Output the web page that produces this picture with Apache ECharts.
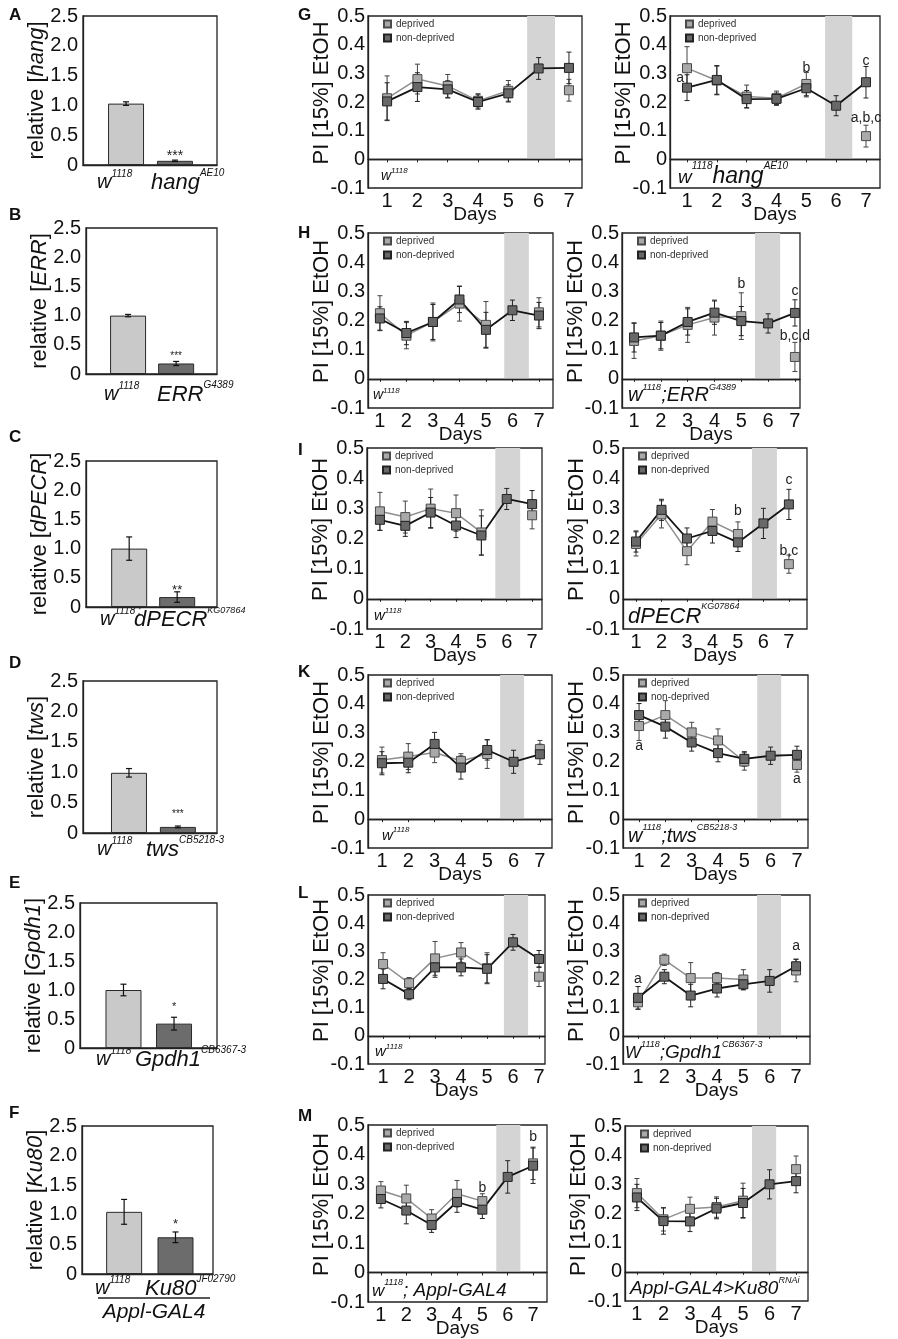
<!DOCTYPE html>
<html><head><meta charset="utf-8">
<script src="https://cdn.jsdelivr.net/npm/echarts@6.0.0/dist/echarts.min.js"></script>
<style>html,body{margin:0;padding:0;background:#fff}#c{width:898px;height:1339px}</style>
</head><body><div id="c"></div>
<script>
const FONT = '"Liberation Sans", Arial, Helvetica, sans-serif';
const days = [1,2,3,4,5,6,7];

// ---------- bar panels A-F : relative expression ----------
const aVals=[1.03,0.07], aErr=[0.03,0.012];
const bVals=[1.00,0.18], bErr=[0.02,0.035];
const cVals=[1.00,0.17], cErr=[0.20,0.09];
const dVals=[0.99,0.10], dErr=[0.07,0.015];
const eVals=[1.00,0.42], eErr=[0.10,0.11];
const fVals=[1.05,0.62], fErr=[0.21,0.09];
const barSig   = ['***','***','**','***','*','*'];
const barGenes = ['hang','ERR','dPECR','tws','Gpdh1','Ku80'];
const ctrlLabels = ['{w|w}{s|1118}','{w|w}{s|1118}','{w|w}{s|1118 ;}','{w|w}{s|1118}','{w|w}{s|1118}','{w|w}{s|1118}'];
const mutLabels  = ['{b|hang}{s|AE10}','{b|ERR}{s|G4389}','{b|dPECR}{s|KG07864}','{b|tws}{s|CB5218-3}','{b|Gpdh1}{s|CB6367-3}','{b|Ku80}{s|JF02790}'];
const barYTicks = [0,0.5,1.0,1.5,2.0,2.5];

// ---------- line panels G-M : PI [15%] EtOH per day ----------
const gL_dep=[0.213,0.280,0.256,0.204,0.239,null,0.241], gL_depErr=[0.078,0.052,0.040,0.025,0.036,null,0.038];
const gL_non=[0.202,0.252,0.244,0.200,0.230,0.317,0.319], gL_nonErr=[0.065,0.050,0.030,0.025,0.030,0.038,0.055];
const gR_dep=[0.318,0.275,0.219,0.213,0.263,null,0.081], gR_depErr=[0.075,0.050,0.040,0.025,0.040,null,0.038];
const gR_non=[0.250,0.277,0.210,0.211,0.248,0.187,0.269], gR_nonErr=[0.045,0.050,0.030,0.020,0.030,0.035,0.055];
const hL_dep=[0.225,0.148,0.195,0.258,0.185,null,0.228], hL_depErr=[0.060,0.045,0.065,0.060,0.080,null,0.050];
const hL_non=[0.207,0.157,0.195,0.272,0.168,0.235,0.217], hL_nonErr=[0.040,0.040,0.060,0.045,0.060,0.035,0.045];
const hR_dep=[0.130,0.148,0.185,0.210,0.215,null,0.075], hR_depErr=[0.060,0.050,0.060,0.060,0.080,null,0.050];
const hR_non=[0.142,0.148,0.195,0.227,0.198,0.190,0.226], hR_nonErr=[0.050,0.045,0.045,0.040,0.050,0.033,0.045];
const iL_dep=[0.290,0.271,0.299,0.284,0.220,null,0.277], iL_depErr=[0.063,0.053,0.065,0.060,0.075,null,0.045];
const iL_non=[0.262,0.242,0.286,0.243,0.210,0.331,0.314], iL_nonErr=[0.035,0.035,0.050,0.040,0.065,0.035,0.045];
const iR_dep=[0.182,0.280,0.158,0.256,0.215,null,0.115], iR_depErr=[0.040,0.045,0.045,0.040,0.040,null,0.030];
const iR_non=[0.190,0.295,0.200,0.225,0.187,0.250,0.313], iR_nonErr=[0.035,0.035,0.035,0.040,0.030,0.050,0.050];
const kL_dep=[0.205,0.217,0.231,0.202,0.226,null,0.243], kL_depErr=[0.045,0.045,0.035,0.025,0.050,null,0.030];
const kL_non=[0.194,0.196,0.261,0.179,0.240,0.199,0.225], kL_nonErr=[0.040,0.035,0.040,0.040,0.035,0.040,0.035];
const kR_dep=[0.323,0.361,0.301,0.273,0.200,null,0.188], kR_depErr=[0.050,0.050,0.035,0.040,0.030,null,0.025];
const kR_non=[0.361,0.321,0.266,0.229,0.209,0.220,0.223], kR_nonErr=[0.040,0.040,0.030,0.030,0.025,0.030,0.030];
const lL_dep=[0.255,0.187,0.275,0.296,0.240,null,0.210], lL_depErr=[0.040,0.020,0.060,0.035,0.055,null,0.035];
const lL_non=[0.202,0.148,0.243,0.243,0.238,0.332,0.273], lL_nonErr=[0.035,0.020,0.035,0.030,0.050,0.028,0.030];
const lR_dep=[0.119,0.270,0.205,0.205,0.200,null,0.232], lR_depErr=[0.025,0.020,0.055,0.020,0.035,null,0.040];
const lR_non=[0.135,0.210,0.143,0.168,0.183,0.195,0.247], lR_nonErr=[0.040,0.025,0.040,0.030,0.020,0.040,0.025];
const mL_dep=[0.278,0.251,0.183,0.267,0.242,null,0.370], mL_depErr=[0.030,0.045,0.030,0.045,0.025,null,0.055];
const mL_non=[0.249,0.210,0.161,0.239,0.213,0.324,0.362], mL_nonErr=[0.030,0.045,0.025,0.035,0.030,0.055,0.060];
const mR_dep=[0.270,0.180,0.216,0.222,0.244,null,0.352], mR_depErr=[0.050,0.040,0.040,0.035,0.060,null,0.045];
const mR_non=[0.255,0.174,0.173,0.217,0.236,0.300,0.311], mR_nonErr=[0.045,0.045,0.035,0.035,0.050,0.050,0.040];

// deprivation period (days)
const gL_band=[5.62,6.54], gR_band=[5.63,6.54], hL_band=[5.69,6.62], hR_band=[5.51,6.45];
const iL_band=[5.55,6.53], iR_band=[5.55,6.53], kL_band=[5.49,6.40], kR_band=[5.49,6.40];
const lL_band=[5.65,6.58], lR_band=[5.52,6.43], mL_band=[5.55,6.50], mR_band=[5.34,6.25];

// significance letters [day, value, text]
const gR_notes=[[0.77,0.283,'a'],[5,0.318,'b'],[7,0.343,'c'],[7,0.144,'a,b,c']];
const hR_notes=[[5,0.325,'b'],[7,0.302,'c'],[7,0.147,'b,c,d']];
const iR_notes=[[5,0.292,'b'],[7,0.395,'c'],[7,0.157,'b,c']];
const kR_notes=[[1,0.252,'a'],[7,0.140,'a']];
const lR_notes=[[1,0.200,'a'],[7,0.317,'a']];
const mL_notes=[[5,0.287,'b'],[7,0.458,'b']];
const yTicksLine=[-0.1,0,0.1,0.2,0.3,0.4,0.5];

// ---------- layout ----------
const barLayout = [
  {letter:'A', vals:aVals, errs:aErr, box:[83,217,16,165],   xr:[0.12,2.86], lab:[97,151,181],  sigSize:14, sigGap:7},
  {letter:'B', vals:bVals, errs:bErr, box:[86,217,228,374],  xr:[0.125,2.85], lab:[104,157,393], sigSize:10, sigGap:8},
  {letter:'C', vals:cVals, errs:cErr, box:[86,217,461,607],  xr:[0.10,2.83], lab:[100,134,618], sigSize:13, sigGap:5},
  {letter:'D', vals:dVals, errs:dErr, box:[83,217,681,833],  xr:[0.06,2.80], lab:[97,146,848],  sigSize:10, sigGap:14},
  {letter:'E', vals:eVals, errs:eErr, box:[80,217,903,1048], xr:[0.14,2.85], lab:[96,135,1058], sigSize:11, sigGap:13},
  {letter:'F', vals:fVals, errs:fErr, box:[82,213,1126,1274],xr:[0.18,2.73], lab:[95,145,1287], sigSize:13, sigGap:11}
];
const barLetterY=[15,215,437,663,883,1113];

const lineLayout = [
  {letter:'G', ly:15,  dep:gL_dep,de:gL_depErr,non:gL_non,ne:gL_nonErr,band:gL_band,notes:[],      box:[368,582,16,188],  xr:[0.37,7.43], geno:['{w|w}{s|1118}',14,14,8,13]},
  {dep:gR_dep,de:gR_depErr,non:gR_non,ne:gR_nonErr,band:gR_band,notes:gR_notes,box:[670,880,16,188],  xr:[0.43,7.47], geno:['{w|w}{s|1118}{b|hang}{s|AE10}',23,19,10,8]},
  {letter:'H', ly:233, dep:hL_dep,de:hL_depErr,non:hL_non,ne:hL_nonErr,band:hL_band,notes:[],      box:[368,553,233,408], xr:[0.55,7.53], geno:['{w|w}{s|1118}',14,14,8,5]},
  {dep:hR_dep,de:hR_depErr,non:hR_non,ne:hR_nonErr,band:hR_band,notes:hR_notes,box:[622,800,233,408], xr:[0.55,7.19], geno:['{w|w}{s|1118}{b|;ERR}{s|G4389}',20,20,9,6]},
  {letter:'I', ly:450, dep:iL_dep,de:iL_depErr,non:iL_non,ne:iL_nonErr,band:iL_band,notes:[],      box:[367,542,448,629], xr:[0.49,7.39], geno:['{w|w}{s|1118}',15,15,8,7]},
  {dep:iR_dep,de:iR_depErr,non:iR_non,ne:iR_nonErr,band:iR_band,notes:iR_notes,box:[623,807,448,629], xr:[0.49,7.71], geno:['{b|dPECR}{s|KG07864}',22,22,9,5]},
  {letter:'K', ly:672, dep:kL_dep,de:kL_depErr,non:kL_non,ne:kL_nonErr,band:kL_band,notes:[],      box:[368,552,675,848], xr:[0.47,7.46], geno:['{w|w}{s|1118}',15,15,8,14]},
  {dep:kR_dep,de:kR_depErr,non:kR_non,ne:kR_nonErr,band:kR_band,notes:kR_notes,box:[623,808,675,848], xr:[0.39,7.42], geno:['{w|w}{s|1118}{b|;tws}{s|CB5218-3}',20,20,9,5]},
  {letter:'L', ly:893, dep:lL_dep,de:lL_depErr,non:lL_non,ne:lL_nonErr,band:lL_band,notes:[],      box:[368,545,895,1064],xr:[0.42,7.23], geno:['{w|w}{s|1118}',15,15,8,7]},
  {dep:lR_dep,de:lR_depErr,non:lR_non,ne:lR_nonErr,band:lR_band,notes:lR_notes,box:[623,810,895,1064],xr:[0.43,7.53], geno:['{w|W}{s|1118}{b|;Gpdh1}{s|CB6367-3}',19,17,9,2]},
  {letter:'M', ly:1116,dep:mL_dep,de:mL_depErr,non:mL_non,ne:mL_nonErr,band:mL_band,notes:mL_notes,box:[368,547,1125,1303],xr:[0.49,7.55], geno:['{w|w}{s|1118}{b|; Appl-GAL4}',19,17,9,4]},
  {dep:mR_dep,de:mR_depErr,non:mR_non,ne:mR_nonErr,band:mR_band,notes:[],box:[625,808,1126,1301],xr:[0.55,7.45], geno:['{b|Appl-GAL4>Ku80}{s|RNAi}',19,19,9,5]}
];

function richSet(big, w, sup){
  const base={fontFamily:FONT, fill:'#111', color:'#111'};
  return {
    b:Object.assign({}, base, {fontStyle:'italic', fontSize:big, lineHeight:Math.round(big*1.15), verticalAlign:'bottom'}),
    w:Object.assign({}, base, {fontStyle:'italic', fontSize:w, lineHeight:Math.round(w*1.15), verticalAlign:'bottom'}),
    s:Object.assign({}, base, {fontStyle:'italic', fontSize:sup, lineHeight:Math.round(sup*1.2), verticalAlign:'top'})
  };
}
function errRender(color, cap, lw){
  return function(params, api){
    const x=api.value(0), y=api.value(1), e=api.value(2);
    if (isNaN(y) || isNaN(e)) return null;
    const t=api.coord([x,y+e]), b=api.coord([x,y-e]);
    const st={stroke:color, lineWidth:lw};
    return {type:'group', children:[
      {type:'line', shape:{x1:t[0],y1:t[1],x2:b[0],y2:b[1]}, style:st},
      {type:'line', shape:{x1:t[0]-cap,y1:t[1],x2:t[0]+cap,y2:t[1]}, style:st},
      {type:'line', shape:{x1:b[0]-cap,y1:b[1],x2:b[0]+cap,y2:b[1]}, style:st}
    ]};
  };
}
function fmt1(v){ return Math.abs(v)<1e-9 ? '0' : v.toFixed(1); }
function boxGrid(b){ return {left:b[0], top:b[2], width:b[1]-b[0], height:b[3]-b[2], show:true, borderColor:'#222', borderWidth:1.3, backgroundColor:'rgba(0,0,0,0)'}; }

const grid=[], xAxis=[], yAxis=[], series=[], legend=[], graphic=[];
const axisLineStyle={show:true, lineStyle:{color:'#222', width:1.3}};

// ---- bars ----
barLayout.forEach((p,k)=>{
  const gi=grid.length;
  grid.push(boxGrid(p.box));
  xAxis.push({gridIndex:gi, type:'value', min:p.xr[0], max:p.xr[1], axisLine:axisLineStyle, axisTick:{show:false}, axisLabel:{show:false}, splitLine:{show:false}});
  yAxis.push({gridIndex:gi, type:'value', min:0, max:2.5, interval:0.5, axisLine:axisLineStyle, axisTick:{show:false}, splitLine:{show:false},
    axisLabel:{fontSize:20, fontFamily:FONT, color:'#111', margin:5, formatter:fmt1},
    name:'relative [{g|'+barGenes[k]+'}]', nameLocation:'middle', nameGap:35, nameMoveOverlap:false,
    nameTextStyle:{fontSize:22, fontFamily:FONT, color:'#111', rich:{g:{fontSize:22, fontFamily:FONT, fontStyle:'italic', color:'#111'}}}});
  series.push({type:'bar', xAxisIndex:gi, yAxisIndex:gi, barWidth:36, silent:true, z:2,
    data:p.vals.map((v,i)=>({value:[i+1,v], itemStyle:{color:i?'#6c6c6c':'#c9c9c9', borderColor:'#2a2a2a', borderWidth:1}}))});
  series.push({type:'custom', xAxisIndex:gi, yAxisIndex:gi, silent:true, z:4, dimensions:['x','y','e'], encode:{x:'x',y:'y'},
    data:p.vals.map((v,i)=>[i+1,v,p.errs[i]]), renderItem:errRender('#111',3,1.2)});
  series.push({type:'custom', xAxisIndex:gi, yAxisIndex:gi, silent:true, z:4, dimensions:['x','y'], encode:{x:'x',y:'y'},
    data:[[2, p.vals[1]+p.errs[1]]],
    renderItem:(params,api)=>{const c=api.coord([api.value(0),api.value(1)]);
      return {type:'text', x:c[0], y:c[1]-p.sigGap+p.sigSize*0.25, style:{text:barSig[k], align:'center', verticalAlign:'middle', fontSize:p.sigSize, fontFamily:FONT, fill:'#222'}};}});
  graphic.push({type:'text', x:p.lab[0], y:p.lab[2], style:{text:ctrlLabels[k], rich:richSet(22,20,10), align:'left', verticalAlign:'middle'}});
  graphic.push({type:'text', x:p.lab[1], y:p.lab[2], style:{text:mutLabels[k], rich:richSet(22,20,k===2?9:10), align:'left', verticalAlign:'middle'}});
  graphic.push({type:'text', x:9, y:barLetterY[k], style:{text:p.letter, fontSize:17, fontWeight:'bold', fontFamily:FONT, fill:'#111', align:'left', verticalAlign:'middle'}});
});
graphic.push({type:'line', shape:{x1:98,y1:1298,x2:210,y2:1298}, style:{stroke:'#222', lineWidth:1.3}});
graphic.push({type:'text', x:154, y:1312, style:{text:'Appl-GAL4', fontSize:21, fontStyle:'italic', fontFamily:FONT, fill:'#111', align:'center', verticalAlign:'middle'}});

// ---- lines ----
lineLayout.forEach((p)=>{
  const gi=grid.length;
  grid.push(boxGrid(p.box));
  xAxis.push({gridIndex:gi, type:'value', min:p.xr[0], max:p.xr[1], axisLine:axisLineStyle,
    axisTick:{show:true, length:3, customValues:days, lineStyle:{color:'#222'}},
    axisLabel:{customValues:days, fontSize:20, fontFamily:FONT, color:'#111', margin:3},
    splitLine:{show:false}, name:'Days', nameLocation:'middle', nameGap:17, nameMoveOverlap:false,
    nameTextStyle:{fontSize:19, fontFamily:FONT, color:'#111'}});
  yAxis.push({gridIndex:gi, type:'value', min:-0.1, max:0.5, interval:0.1, axisLine:axisLineStyle, axisTick:{show:false}, splitLine:{show:false},
    axisLabel:{fontSize:20, fontFamily:FONT, color:'#111', margin:3, formatter:fmt1},
    name:'PI [15%] EtOH', nameLocation:'middle', nameGap:35, nameMoveOverlap:false,
    nameTextStyle:{fontSize:22, fontFamily:FONT, color:'#111', padding:[0,0,0,18]}});
  series.push({type:'line', name:'_band', xAxisIndex:gi, yAxisIndex:gi, data:[], silent:true, z:1,
    markArea:{silent:true, itemStyle:{color:'#d4d4d4'}, data:[[{xAxis:p.band[0], yAxis:0},{xAxis:p.band[1], yAxis:0.5}]]},
    markLine:{silent:true, symbol:'none', label:{show:false}, lineStyle:{color:'#222', width:1.3, type:'solid'}, data:[{yAxis:0}]}});
  series.push({type:'custom', xAxisIndex:gi, yAxisIndex:gi, silent:true, z:2, dimensions:['x','y','e'], encode:{x:'x',y:'y'},
    data:days.map((d,i)=>[d, p.dep[i]==null?NaN:p.dep[i], p.de[i]==null?NaN:p.de[i]]).filter(r=>!isNaN(r[1])), renderItem:errRender('#444',2.5,1)});
  series.push({type:'custom', xAxisIndex:gi, yAxisIndex:gi, silent:true, z:2, dimensions:['x','y','e'], encode:{x:'x',y:'y'},
    data:days.map((d,i)=>[d, p.non[i], p.ne[i]]), renderItem:errRender('#222',2.5,1)});
  series.push({type:'line', name:'deprived', xAxisIndex:gi, yAxisIndex:gi, z:3, silent:true, connectNulls:false,
    data:days.map((d,i)=>[d, p.dep[i]==null?'-':p.dep[i]]),
    symbol:'rect', symbolSize:9, lineStyle:{color:'#8e8e8e', width:1.5},
    itemStyle:{color:'#a9a9a9', borderColor:'#4a4a4a', borderWidth:1}});
  series.push({type:'line', name:'non-deprived', xAxisIndex:gi, yAxisIndex:gi, z:3, silent:true,
    data:days.map((d,i)=>[d, p.non[i]]),
    symbol:'rect', symbolSize:9, lineStyle:{color:'#141414', width:1.8},
    itemStyle:{color:'#686868', borderColor:'#222', borderWidth:1}});
  if (p.notes.length){
    const notes=p.notes;
    series.push({type:'custom', xAxisIndex:gi, yAxisIndex:gi, silent:true, z:5, dimensions:['x','y'], encode:{x:'x',y:'y'},
      data:notes.map(n=>[n[0],n[1]]),
      renderItem:(params,api)=>{const c=api.coord([api.value(0),api.value(1)]);
        return {type:'text', x:c[0], y:c[1], style:{text:notes[params.dataIndex][2], align:'center', verticalAlign:'middle', fontSize:14, fontFamily:FONT, fill:'#222'}};}});
  }
  legend.push({data:['deprived','non-deprived'], orient:'vertical', left:p.box[0]+15, top:p.box[2]+3, padding:0,
    icon:'rect', itemWidth:7, itemHeight:7, itemGap:4, selectedMode:false,
    textStyle:{fontSize:10, fontFamily:FONT, color:'#333'}});
  const zeroY = p.box[2] + (p.box[3]-p.box[2])*5/6;
  const g=p.geno;
  graphic.push({type:'text', x:p.box[0]+(g[4]||6), y:(zeroY+p.box[3])/2+1, style:{text:g[0], rich:richSet(g[1],g[2],g[3]), align:'left', verticalAlign:'middle'}});
  if (p.letter) graphic.push({type:'text', x:298, y:p.ly, style:{text:p.letter, fontSize:17, fontWeight:'bold', fontFamily:FONT, fill:'#111', align:'left', verticalAlign:'middle'}});
});

const chart = echarts.init(document.getElementById('c'), null, {renderer:'canvas'});
chart.setOption({
  animation:false,
  backgroundColor:'#ffffff',
  textStyle:{fontFamily:FONT},
  grid, xAxis, yAxis, series, legend, graphic
});
</script></body></html>
